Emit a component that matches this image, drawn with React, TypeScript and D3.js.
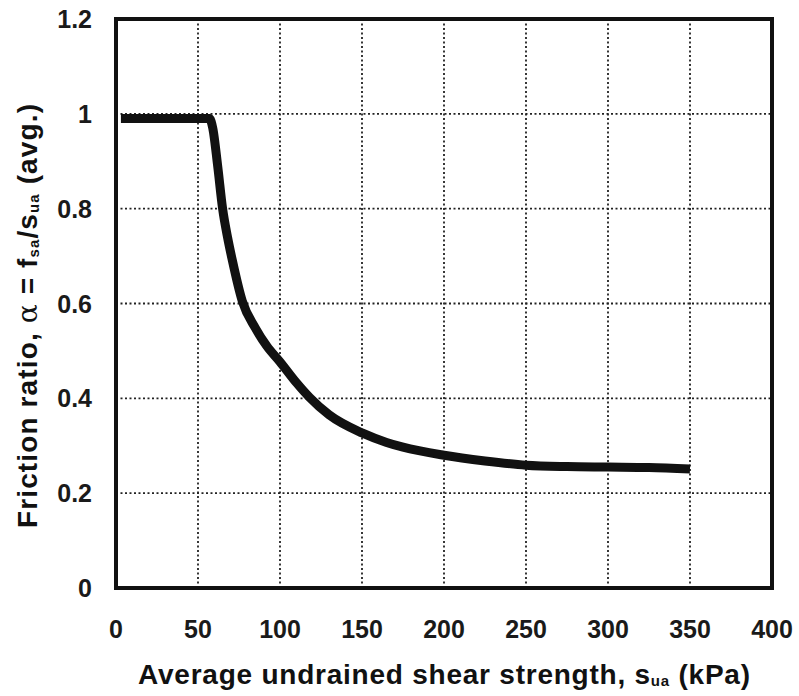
import React, { useEffect, useRef } from "react";
import * as d3 from "d3";

// values
const strength = [3, 57, 59, 62, 65, 68, 71, 77, 85, 92, 100, 110, 118, 130, 150, 165, 175, 200, 225, 250, 275, 300, 325, 350];
const alpha = [0.99, 0.99, 0.97, 0.89, 0.8, 0.74, 0.69, 0.605, 0.548, 0.51, 0.477, 0.433, 0.402, 0.365, 0.327, 0.307, 0.297, 0.28, 0.268, 0.259, 0.256, 0.255, 0.254, 0.251];
const xTicks = [0, 50, 100, 150, 200, 250, 300, 350, 400];
const yTicks = [0, 0.2, 0.4, 0.6, 0.8, 1, 1.2];

const W = 799;
const H = 696;
const FONT = "'Liberation Sans', Arial, sans-serif";

export default function App() {
  const ref = useRef<SVGSVGElement | null>(null);

  useEffect(() => {
    document.body.style.margin = "0";
    if (!ref.current) return;
    const svg = d3.select(ref.current);
    svg.selectAll("*").remove();

    const left = 116, right = 772, top = 19, bottom = 588;
    const x = d3.scaleLinear().domain([0, 400]).range([left, right]);
    const y = d3.scaleLinear().domain([0, 1.2]).range([bottom, top]);

    // grid
    const grid = svg.append("g").attr("stroke", "#222").attr("stroke-width", 1.8).attr("stroke-dasharray", "2,2.5");
    grid.selectAll(".vx").data(xTicks.slice(1, -1)).enter().append("line")
      .attr("x1", (d) => x(d)).attr("x2", (d) => x(d)).attr("y1", top).attr("y2", bottom);
    grid.selectAll(".hy").data(yTicks.slice(1, -1)).enter().append("line")
      .attr("y1", (d) => y(d)).attr("y2", (d) => y(d)).attr("x1", left).attr("x2", right);

    // frame
    svg.append("rect").attr("x", left).attr("y", top).attr("width", right - left).attr("height", bottom - top)
      .attr("fill", "none").attr("stroke", "#111").attr("stroke-width", 4);

    // curve
    const line = d3.line<number>().x((d) => x(d)).y((_, i) => y(alpha[i])).curve(d3.curveMonotoneX);
    svg.append("path").attr("d", line(strength) || "").attr("fill", "none")
      .attr("stroke", "#111").attr("stroke-width", 9).attr("stroke-linejoin", "round");

    // tick labels
    svg.append("g").selectAll("text").data(xTicks).enter().append("text")
      .attr("x", (d) => x(d)).attr("y", 638).attr("text-anchor", "middle")
      .attr("font-family", FONT).attr("font-size", 25).attr("font-weight", "bold").attr("fill", "#1a1a1a")
      .text((d) => d);
    svg.append("g").selectAll("text").data(yTicks).enter().append("text")
      .attr("x", 92).attr("y", (d) => y(d)).attr("dy", "0.36em").attr("text-anchor", "end")
      .attr("font-family", FONT).attr("font-size", 25).attr("font-weight", "bold").attr("fill", "#1a1a1a")
      .text((d) => d3.format("~g")(d));

    // x title
    const xt = svg.append("text").attr("x", 138).attr("y", 684)
      .attr("textLength", 612).attr("lengthAdjust", "spacing")
      .attr("font-family", FONT).attr("font-size", 28).attr("font-weight", "900").attr("fill", "#111");
    xt.append("tspan").text("Average undrained shear strength, s");
    xt.append("tspan").attr("font-size", 15).attr("dy", 2).text("ua");
    xt.append("tspan").attr("dy", -2).text(" (kPa)");

    // y title
    const yt = svg.append("text").attr("transform", "translate(37,528) rotate(-90)")
      .attr("textLength", 424).attr("lengthAdjust", "spacing")
      .attr("font-family", FONT).attr("font-size", 28).attr("font-weight", "900").attr("fill", "#111");
    yt.append("tspan").text("Friction ratio,  ");
    yt.append("tspan").attr("font-family", "'DejaVu Serif', serif").attr("font-weight", "normal").text("α");
    yt.append("tspan").text("  = f");
    yt.append("tspan").attr("font-size", 15).attr("dy", 2).text("sa");
    yt.append("tspan").attr("dy", -2).text("/s");
    yt.append("tspan").attr("font-size", 15).attr("dy", 2).text("ua");
    yt.append("tspan").attr("dy", -2).text(" (avg.)");
  }, []);

  return <svg ref={ref} width={W} height={H} style={{ display: "block", background: "#fff" }} />;
}
